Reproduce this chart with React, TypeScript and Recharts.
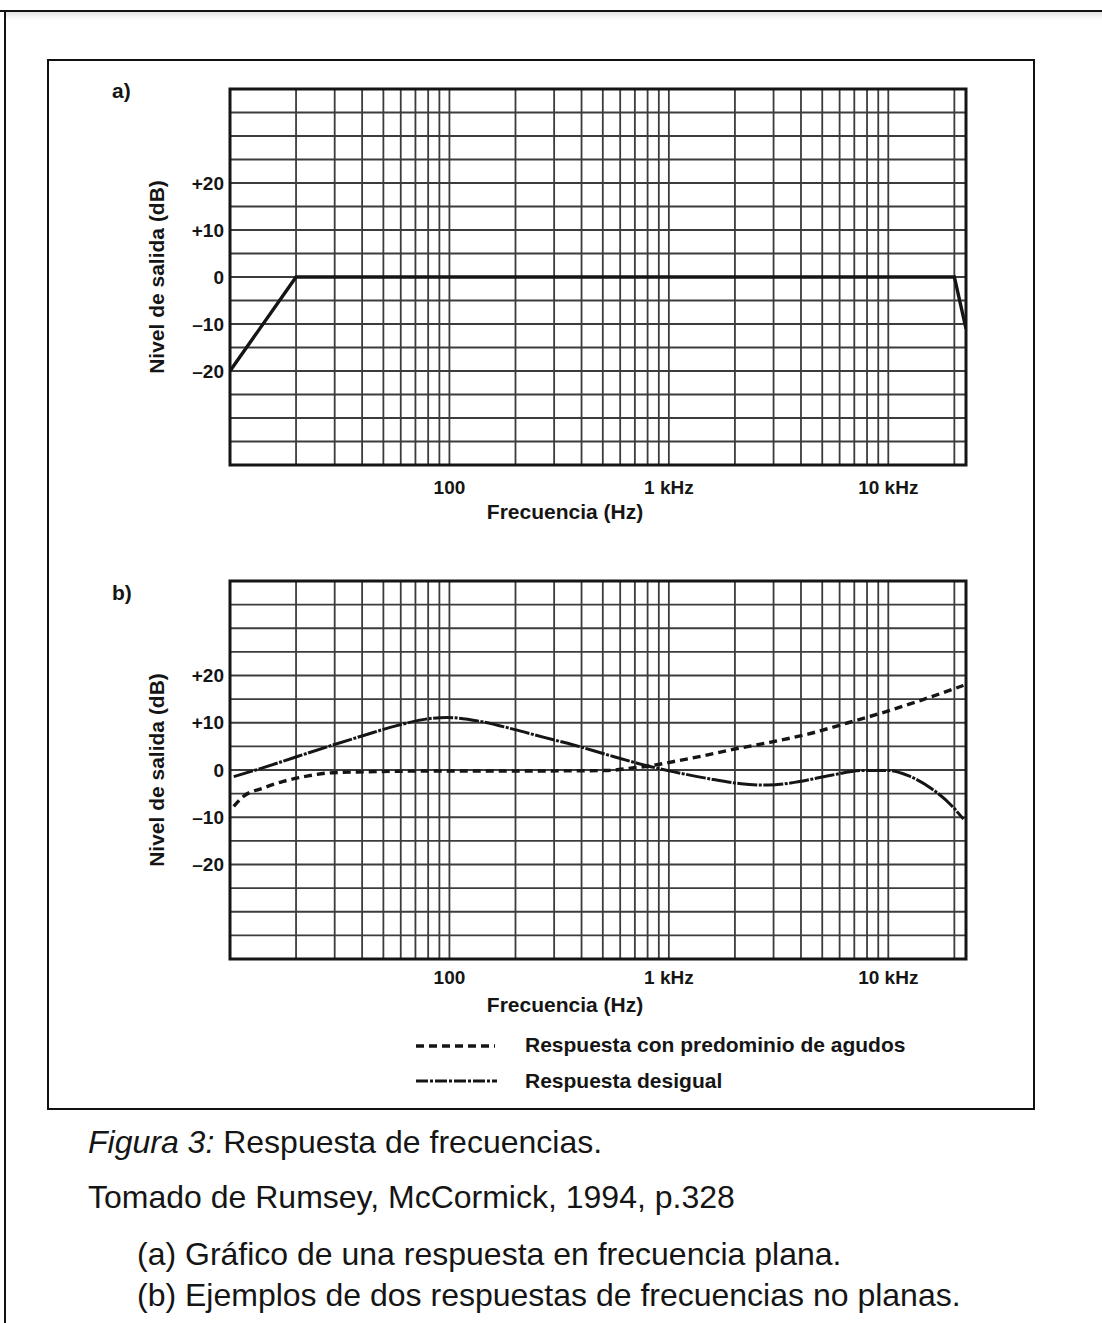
import { LineChart, Line, XAxis, YAxis, CartesianGrid, ReferenceArea } from "recharts";

// vertical grid lines (Hz), log paper
const GRID_FREQS = [
  20, 30, 40, 50, 60, 70, 80, 90,
  100, 200, 300, 400, 500, 600, 700, 800, 900,
  1000, 2000, 3000, 4000, 5000, 6000, 7000, 8000, 9000,
  10000, 20000,
];
const FREQ_LABELS: Record<number, string> = { 100: "100", 1000: "1 kHz", 10000: "10 kHz" };
const FREQ_DOMAIN = [10, 22600];

const DB_TICKS = [-40, -35, -30, -25, -20, -15, -10, -5, 0, 5, 10, 15, 20, 25, 30, 35, 40];
const DB_LABELS: Record<number, string> = { 20: "+20", 10: "+10", 0: "0", [-10]: "–10", [-20]: "–20" };

// a) flat response
const FLAT_FREQ = [10, 20, 20000, 22600];
const FLAT_DB = [-20, 0, 0, -11];

// b) treble-heavy response (dashed)
const TREBLE_FREQ = [10.4, 11.5, 14.2, 17.5, 22.4, 28.6, 40.6, 100, 260, 526, 670, 828, 1055, 1400, 1980, 2920, 4300, 6560, 10000, 14600, 22000];
const TREBLE_DB = [-7.7, -5.6, -3.8, -2.4, -1.3, -0.6, -0.4, -0.2, -0.2, -0.1, 0.4, 0.9, 1.8, 2.9, 4.4, 5.9, 7.6, 10, 12.5, 15, 17.9];

// b) uneven response (dash-dot)
const UNEVEN_FREQ = [10.4, 14.2, 19.5, 28.6, 40.6, 57.6, 81.8, 97.5, 138, 197, 270, 368, 526, 828, 1055, 1507, 2133, 2831, 3880, 5495, 7762, 10000, 12330, 15700, 19400, 22000];
const UNEVEN_DB = [-1.4, 0.5, 2.6, 5.1, 7.3, 9.4, 10.9, 11.1, 10.3, 8.6, 6.9, 5.3, 3.2, 0.7, -0.4, -1.8, -2.9, -3.2, -2.5, -1.1, -0.1, -0.1, -1.2, -3.9, -7.5, -10.4];

const FONT = "'Liberation Sans', Arial, Helvetica, sans-serif";
const INK = "#151515";
const PLOT_LEFT = 230;
const PLOT_RIGHT = 966;
const PAGE_W = 1102;
const Y_AXIS_W = 80;
const X_AXIS_H = 60;
const DASH_DOT = "20 1.5 3 1.5";

const toSeries = (freqs: number[], dbs: number[]) => freqs.map((f, i) => ({ f, db: dbs[i] }));

type SeriesSpec = {
  name: string;
  data: { f: number; db: number }[];
  curve: "linear" | "monotone";
  dash?: string;
  width: number;
};

type PanelProps = {
  top: number;
  plotTop: number;
  plotBottom: number;
  tickGap: number;
  labelOffset: number;
  series: SeriesSpec[];
};

function FreqPanel({ top, plotTop, plotBottom, tickGap, labelOffset, series }: PanelProps) {
  const height = plotBottom - top + X_AXIS_H + 10;
  const tickStyle = { fill: INK, fontSize: 19, fontWeight: 700, fontFamily: FONT };
  return (
    <div style={{ position: "absolute", left: 0, top }}>
      <LineChart
        width={PAGE_W}
        height={height}
        margin={{ top: plotTop - top, right: PAGE_W - PLOT_RIGHT, bottom: 10, left: PLOT_LEFT - Y_AXIS_W }}
      >
        <CartesianGrid stroke="#3c3c3c" strokeWidth={1.8} />
        <XAxis
          type="number"
          dataKey="f"
          scale="log"
          domain={FREQ_DOMAIN}
          allowDataOverflow
          ticks={GRID_FREQS}
          interval={0}
          tickFormatter={(v: number) => FREQ_LABELS[v] ?? ""}
          tickLine={false}
          axisLine={false}
          tickMargin={tickGap}
          height={X_AXIS_H}
          tick={tickStyle}
          label={{
            value: "Frecuencia (Hz)",
            position: "insideBottom",
            offset: labelOffset,
            dx: -33,
            fill: INK,
            fontSize: 21,
            fontWeight: 700,
            fontFamily: FONT,
          }}
        />
        <YAxis
          type="number"
          domain={[-40, 40]}
          ticks={DB_TICKS}
          interval={0}
          tickFormatter={(v: number) => DB_LABELS[v] ?? ""}
          width={Y_AXIS_W}
          tickLine={false}
          axisLine={false}
          tickMargin={0}
          tick={tickStyle}
          label={{
            value: "Nivel de salida (dB)",
            angle: -90,
            position: "center",
            dx: -33,
            fill: INK,
            fontSize: 21,
            fontWeight: 700,
            fontFamily: FONT,
          }}
        />
        <ReferenceArea x1={FREQ_DOMAIN[0]} x2={FREQ_DOMAIN[1]} y1={-40} y2={40} fill="none" stroke={INK} strokeWidth={3} />
        {series.map((s) => (
          <Line
            key={s.name}
            name={s.name}
            data={s.data}
            dataKey="db"
            type={s.curve}
            stroke={INK}
            strokeWidth={s.width}
            strokeDasharray={s.dash}
            dot={false}
            activeDot={false}
            isAnimationActive={false}
          />
        ))}
      </LineChart>
    </div>
  );
}

const textStyle = (left: number, top: number, size: number, weight = 700) => ({
  position: "absolute" as const,
  left,
  top,
  fontFamily: FONT,
  fontSize: size,
  fontWeight: weight,
  lineHeight: `${size}px`,
  color: INK,
  whiteSpace: "nowrap" as const,
});

export default function App() {
  const flat = toSeries(FLAT_FREQ, FLAT_DB);
  const treble = toSeries(TREBLE_FREQ, TREBLE_DB);
  const uneven = toSeries(UNEVEN_FREQ, UNEVEN_DB);

  return (
    <div style={{ position: "absolute", left: 0, top: 0, width: PAGE_W, height: 1323, background: "#fff", overflow: "hidden" }}>
      {/* page frame */}
      <div style={{ position: "absolute", left: 0, top: 10, width: PAGE_W, height: 2, background: "#111" }} />
      <div style={{ position: "absolute", left: 6, top: 12, width: PAGE_W, height: 8, background: "linear-gradient(#e2e2e2, #fff)" }} />
      <div style={{ position: "absolute", left: 4, top: 10, width: 2, height: 1313, background: "#111" }} />
      {/* figure box */}
      <div style={{ position: "absolute", left: 47, top: 59, width: 984, height: 1047, border: "2px solid #111" }} />

      <FreqPanel
        top={0}
        plotTop={89}
        plotBottom={465}
        tickGap={10}
        labelOffset={6}
        series={[{ name: "Respuesta plana", data: flat, curve: "linear", width: 3.4 }]}
      />
      <FreqPanel
        top={500}
        plotTop={581}
        plotBottom={959}
        tickGap={6}
        labelOffset={7}
        series={[
          { name: "Respuesta con predominio de agudos", data: treble, curve: "monotone", dash: "8 5", width: 3.4 },
          { name: "Respuesta desigual", data: uneven, curve: "monotone", dash: DASH_DOT, width: 3 },
        ]}
      />

      <div style={textStyle(112, 80, 21)}>a)</div>
      <div style={textStyle(112, 582, 21)}>b)</div>

      {/* legend */}
      <svg style={{ position: "absolute", left: 410, top: 1030 }} width={95} height={65}>
        <line x1={6} y1={16} x2={85} y2={16} stroke={INK} strokeWidth={3.4} strokeDasharray="8 5" />
        <line x1={6} y1={51} x2={87} y2={51} stroke={INK} strokeWidth={3} strokeDasharray="12 2 3 2" />
      </svg>
      <div style={textStyle(525, 1034, 21)}>Respuesta con predominio de agudos</div>
      <div style={textStyle(525, 1070, 21)}>Respuesta desigual</div>

      {/* caption */}
      <div style={textStyle(88, 1126, 32, 400)}>
        <i>Figura 3:</i> Respuesta de frecuencias.
      </div>
      <div style={textStyle(88, 1181, 32, 400)}>Tomado de Rumsey, McCormick, 1994, p.328</div>
      <div style={textStyle(137, 1238, 32, 400)}>(a) Gráfico de una respuesta en frecuencia plana.</div>
      <div style={textStyle(137, 1279, 32, 400)}>(b) Ejemplos de dos respuestas de frecuencias no planas.</div>
    </div>
  );
}
